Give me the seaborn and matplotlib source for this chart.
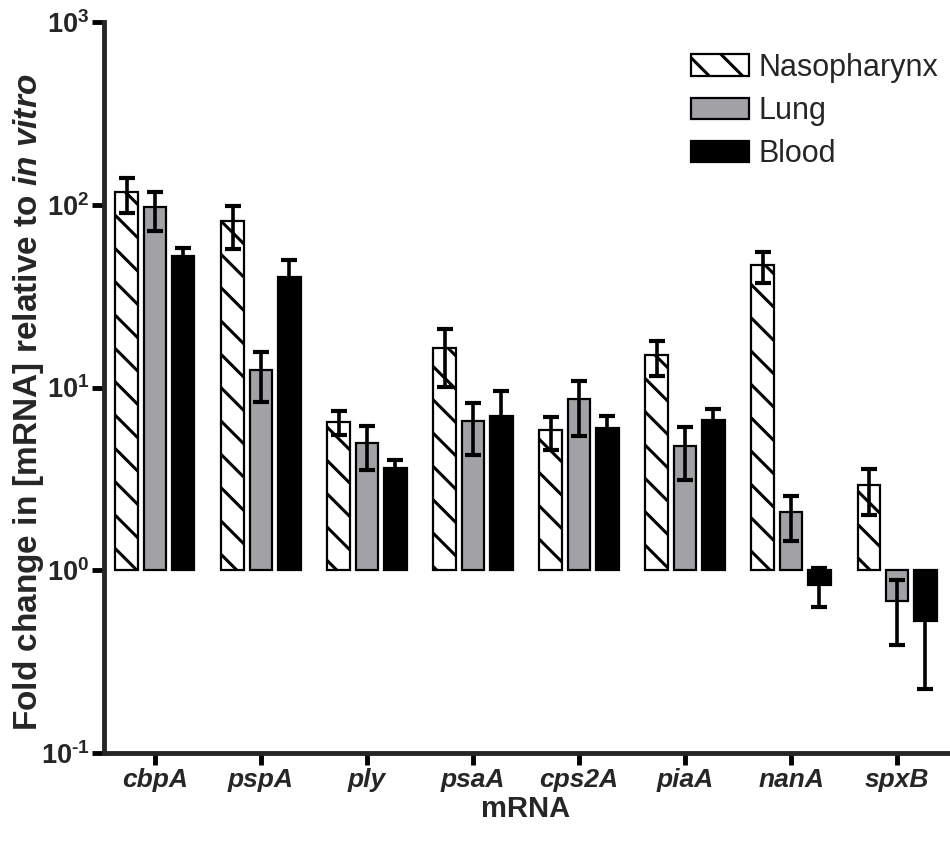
import numpy as np
import pandas as pd
import matplotlib
matplotlib.use("Agg")
import matplotlib.pyplot as plt
import seaborn as sns
from matplotlib.patches import Patch
from matplotlib.ticker import NullLocator, FixedLocator

# Genes and tissues
genes = ["cbpA", "pspA", "ply", "psaA", "cps2A", "piaA", "nanA", "spxB"]
tissues = ["Nasopharynx", "Lung", "Blood"]

# Mean fold change (relative to in vitro) per gene and tissue
naso = [118, 81, 6.5, 16.5, 5.82, 15.1, 46.8, 2.91]
lung = [97.5, 12.4, 5.0, 6.55, 8.6, 4.8, 2.08, 0.68]
blood = [52.7, 40.0, 3.61, 6.94, 6.0, 6.66, 0.835, 0.526]

# Error bar extents (upper / lower) per tissue
naso_err_hi = [22, 17, 0.92, 4.5, 1.06, 2.8, 8.0, 0.69]
naso_err_lo = [28, 24, 0.97, 6.4, 1.29, 3.6, 9.7, 0.91]
lung_err_hi = [20.5, 3.2, 1.15, 1.65, 2.3, 1.27, 0.46, 0.20]
lung_err_lo = [25.5, 4.1, 1.48, 2.28, 3.18, 1.67, 0.64, 0.29]
blood_err_hi = [5.3, 9.9, 0.42, 2.6, 0.97, 0.93, 0.20, 0.30]
blood_err_lo = [5.3, 9.9, 0.42, 2.6, 0.97, 0.93, 0.205, 0.303]

y_ticks = [0.1, 1, 10, 100, 1000]
y_tick_labels = ["$\\mathbf{10^{\u20101}}$", r"$\mathbf{10^{0}}$", r"$\mathbf{10^{1}}$",
                 r"$\mathbf{10^{2}}$", r"$\mathbf{10^{3}}$"]

grey = "#a2a2a6"

sns.set_theme(style="ticks")
plt.rcParams["font.family"] = ["Liberation Sans", "DejaVu Sans"]
plt.rcParams["mathtext.fontset"] = "custom"
plt.rcParams["mathtext.rm"] = "Liberation Sans"
plt.rcParams["mathtext.bf"] = "Liberation Sans:bold"
plt.rcParams["mathtext.it"] = "Liberation Sans:italic"
plt.rcParams["mathtext.bfit"] = "Liberation Sans:italic:bold"
plt.rcParams["hatch.linewidth"] = 2.2
plt.rcParams["hatch.color"] = "black"

W, H = 950, 841
fig = plt.figure(figsize=(W / 100, H / 100), dpi=100)
ax = fig.add_axes([104 / W, 1 - 753 / H, (948 - 104) / W, (753 - 22) / H])

values = {"Nasopharynx": naso, "Lung": lung, "Blood": blood}
err_hi = {"Nasopharynx": naso_err_hi, "Lung": lung_err_hi, "Blood": blood_err_hi}
err_lo = {"Nasopharynx": naso_err_lo, "Lung": lung_err_lo, "Blood": blood_err_lo}

df = pd.DataFrame({
    "gene": genes * len(tissues),
    "tissue": np.repeat(tissues, len(genes)),
    "fold": naso + lung + blood,
})

sns.barplot(data=df, x="gene", y="fold", hue="tissue", order=genes,
            hue_order=tissues, palette=["white", grey, "black"],
            saturation=1, errorbar=None, width=0.8, gap=0.2,
            edgecolor="black", linewidth=1.6, legend=False, ax=ax, zorder=2)

# Bars on a log axis grow from 1 (no change), up or down
for container, tissue in zip(ax.containers, tissues):
    xs = []
    for bar, v in zip(container, values[tissue]):
        bar.set_y(1)
        bar.set_height(v - 1)
        if tissue == "Nasopharynx":
            bar.set_hatch("\\")
        xs.append(bar.get_x() + bar.get_width() / 2)
    ax.errorbar(xs, values[tissue], yerr=[err_lo[tissue], err_hi[tissue]],
                fmt="none", ecolor="black", elinewidth=2.6, capsize=5.5,
                capthick=3, zorder=5)

ax.set_yscale("log")
ax.set_ylim(0.1, 1000)
ax.set_xlim(-0.48, 7.48)
ax.yaxis.set_major_locator(FixedLocator(y_ticks))
ax.yaxis.set_minor_locator(NullLocator())
ax.set_yticklabels(y_tick_labels, fontsize=19.5)
ax.set_xticks(range(len(genes)))
ax.set_xticklabels(genes, fontsize=19, fontweight="bold", fontstyle="italic")

for side in ["top", "right"]:
    ax.spines[side].set_visible(False)
for side in ["left", "bottom"]:
    ax.spines[side].set_linewidth(3.5)
ax.tick_params(axis="both", width=3.5, length=8.5, pad=2, color="black")

ax.set_ylabel(r"Fold change in [mRNA] relative to $\mathbfit{in\ vitro}$",
              fontsize=24, fontweight="bold")
ax.yaxis.set_label_coords(-0.069, 0.48)
ax.set_xlabel("mRNA", fontsize=21, fontweight="bold")
ax.xaxis.set_label_coords(0.5, -0.058)

handles = [
    Patch(facecolor="white", edgecolor="black", hatch="\\", linewidth=1.6),
    Patch(facecolor=grey, edgecolor="black", linewidth=1.6),
    Patch(facecolor="black", edgecolor="black", linewidth=1.6),
]
fig.legend(handles, tissues, loc="upper left",
           bbox_to_anchor=(691 / W, 1 - 53 / H), frameon=False, fontsize=22,
           handlelength=1.9, handleheight=0.72, labelspacing=0.43,
           handletextpad=0.3, borderpad=0, borderaxespad=0)

fig.savefig("out.png", dpi=100)
